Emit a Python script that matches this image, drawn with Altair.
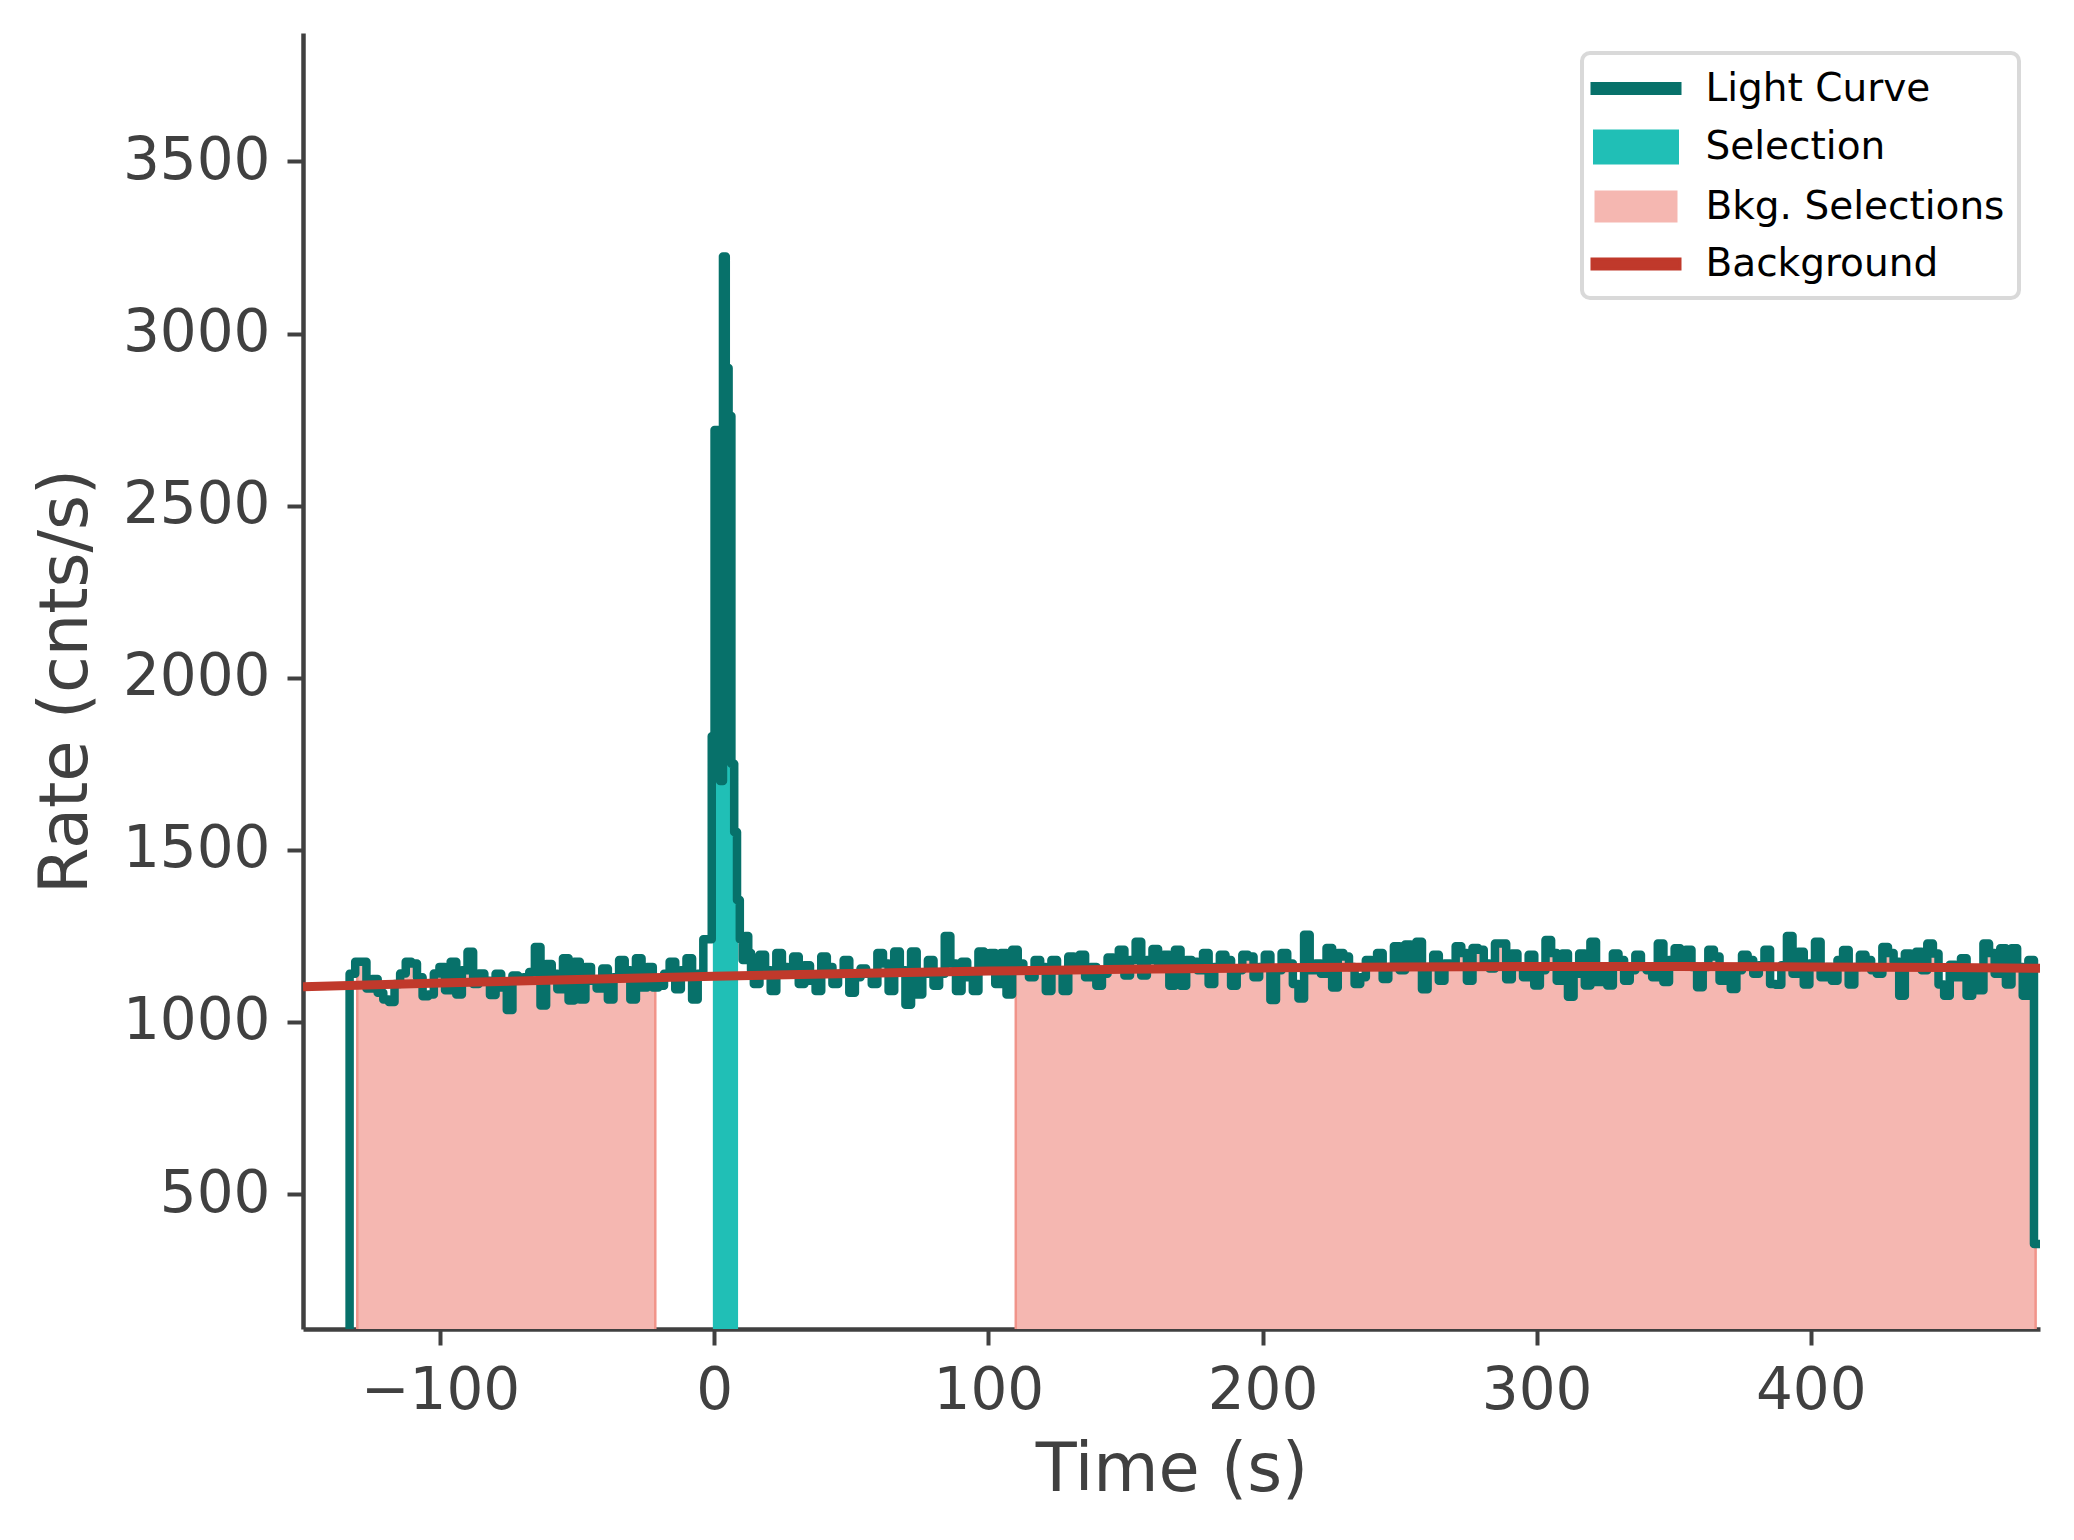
import altair as alt
import pandas as pd

# ---------------- data ----------------
LC_T0 = -133.0               # start of first full bin (s)
LC_DT = 2.048                # bin width away from the burst (s)
BURST_DT = 1.024             # finer bins through the burst (s)
LC_LEAD_RATE = 60.0          # partial bin before the first full bin (below the axis)

# -133 s ... -2 s
RATE_PRE = [
    1140, 1175, 1175, 1097, 1125, 1085, 1065, 1058, 1110, 1141,
    1175, 1170, 1130, 1075, 1080, 1141, 1160, 1092, 1175, 1080,
    1150, 1204, 1110, 1141, 1120, 1078, 1140, 1100, 1035, 1135,
    1125, 1130, 1145, 1218, 1048, 1168, 1140, 1095, 1185, 1062,
    1175, 1065, 1160, 1120, 1097, 1155, 1065, 1130, 1180, 1150,
    1065, 1185, 1100, 1160, 1100, 1105, 1140, 1175, 1095, 1150,
    1185, 1065, 1140, 1240,
]
# -1.9 s ... 14.5 s
RATE_BURST = [
    1240, 1830, 2720, 2720, 1700, 3224, 2900, 2760,
    1750, 1552, 1354, 1240, 1180, 1250, 1200, 1150,
]
# 14.5 s ... end
RATE_POST = [
    1110, 1195, 1150, 1090, 1200, 1160, 1140, 1190, 1110, 1165,
    1120, 1090, 1190, 1160, 1110, 1140, 1180, 1085, 1130, 1155,
    1140, 1110, 1200, 1170, 1090, 1205, 1150, 1050, 1205, 1080,
    1140, 1180, 1105, 1140, 1250, 1170, 1090, 1175, 1130, 1090,
    1205, 1150, 1200, 1110, 1200, 1080, 1210, 1170, 1150, 1130,
    1180, 1160, 1090, 1180, 1150, 1090, 1190, 1170,
    1195, 1130, 1160, 1105, 1140, 1187, 1170, 1210, 1135, 1180,
    1233, 1135, 1180, 1212, 1160, 1195, 1105, 1210, 1105, 1180,
    1175, 1150, 1200, 1110, 1160, 1195, 1180, 1105, 1150, 1195,
    1190, 1130, 1160, 1195, 1064, 1150, 1200, 1170, 1110, 1068,
    1253, 1150, 1170, 1140, 1215, 1100, 1200, 1190, 1160, 1110,
    1130, 1180, 1170, 1200, 1125, 1160, 1220, 1150, 1225, 1180,
    1233, 1095, 1160, 1195, 1120, 1170, 1165, 1220, 1200, 1120,
    1215, 1210, 1170, 1155, 1228,
    1228, 1124, 1199, 1160, 1130, 1195, 1106, 1150, 1238, 1200,
    1120, 1199, 1073, 1140, 1199, 1106, 1233, 1116, 1150, 1106,
    1199, 1180, 1120, 1150, 1195, 1160, 1150, 1130, 1228, 1116,
    1180, 1214, 1170, 1210, 1160, 1101, 1160, 1210, 1190, 1120,
    1150, 1096, 1150, 1195, 1180, 1140, 1165, 1210, 1110,
    1108, 1165, 1250, 1140, 1204, 1109, 1170, 1233, 1130, 1160,
    1120, 1180, 1209, 1109, 1160, 1195, 1180, 1150, 1140, 1218,
    1200, 1175, 1076, 1199, 1170, 1204, 1150, 1228, 1199, 1109,
    1076, 1166, 1130, 1185, 1076, 1140, 1092, 1228, 1200, 1140,
    1214, 1109, 1214, 1160, 1076, 1180, 355,
]
X_MIN, X_MAX = -150.0, 483.6
Y_MIN, Y_MAX = 108.0, 3873.0

# Background model
BACK_T = [-150, -100, -50, 0, 50, 100, 150, 200, 250, 300, 350, 400, 450, 483.6]
BACK_RATE = [1102, 1113, 1123, 1133, 1141, 1148, 1153, 1157, 1160, 1161, 1161, 1160, 1158, 1156]

# Intervals
SRC_INTERVAL = [-0.5, 8.7]
BKG_INTERVALS = [[-130.2, -21.5], [110.0, 482.0]]

X_TICKS = [-100, 0, 100, 200, 300, 400]
Y_TICKS = [500, 1000, 1500, 2000, 2500, 3000, 3500]

SERIES = ["Light Curve", "Selection", "Bkg. Selections", "Background"]
COLORS = ["#07716A", "#20BFB6", "#F5B7B1", "#C0392B"]

# ---------------- tables ----------------
lc_t = [LC_T0 - LC_DT]
lc_r = [LC_LEAD_RATE]
cur = LC_T0
for rates, dt in ((RATE_PRE, LC_DT), (RATE_BURST, BURST_DT), (RATE_POST, LC_DT)):
    for r in rates:
        lc_t.append(cur)
        lc_r.append(r)
        cur += dt
lc_t.append(X_MAX)
lc_r.append(lc_r[-1])
lc = pd.DataFrame({"t": lc_t, "rate": lc_r, "series": SERIES[0]})


def rate_at(t):
    idx = max(i for i, s in enumerate(lc_t[:-1]) if s <= t)
    return lc_r[idx]


def region(a, b, name, series):
    ts = [a] + [s for s in lc_t[:-1] if a < s < b] + [b]
    return pd.DataFrame({"t": ts, "rate": [rate_at(x) for x in ts],
                         "base": 0.0, "grp": name, "series": series})


bkg_df = pd.concat([region(a, b, "bkg%d" % i, SERIES[2]) for i, (a, b) in enumerate(BKG_INTERVALS)])
src_df = region(SRC_INTERVAL[0], SRC_INTERVAL[1], "src", SERIES[1])
back_df = pd.DataFrame({"t": BACK_T, "rate": BACK_RATE, "series": SERIES[3]})

# ---------------- encodings ----------------
TXT = "#404040"
x_enc = alt.X("t:Q", scale=alt.Scale(domain=[X_MIN, X_MAX], nice=False, zero=False),
              axis=alt.Axis(values=X_TICKS, title="Time (s)", titlePadding=17, format="d"))
y_enc = alt.Y("rate:Q", scale=alt.Scale(domain=[Y_MIN, Y_MAX], nice=False, zero=False),
              axis=alt.Axis(values=Y_TICKS, title="Rate (cnts/s)", titlePadding=22, format="d"))

RECT_SEL = "M-2.075,-0.8H2.075V0.8H-2.075Z"
RECT_BKG = "M-2.0,-0.725H2.0V0.725H-2.0Z"
RECT_LINE = "M-2.2,-0.25H2.2V0.25H-2.2Z"

shape_expr = ("datum.value === 'Selection' ? '%s' : (datum.value === 'Bkg. Selections' ? '%s' : '%s')"
              % (RECT_SEL, RECT_BKG, RECT_LINE))
fill_expr = ("datum.value === 'Light Curve' ? '%s' : (datum.value === 'Selection' ? '%s' : "
             "(datum.value === 'Bkg. Selections' ? '%s' : '%s'))" % tuple(COLORS))
stroke_expr = "datum.value === 'Bkg. Selections' ? '#F1948A' : 'transparent'"

legend = alt.Legend(
    title=None, orient="none", legendX=1279, legendY=20,
    padding=14, rowPadding=15.5,
    labelFont="DejaVu Sans", labelFontSize=39, labelColor="#000000", labelLimit=800,
    strokeColor="#D9D9D9", fillColor="#FFFFFF", cornerRadius=8,
    symbolSize=1600, symbolStrokeWidth=3, symbolOffset=18.5, labelOffset=48,
    symbolOpacity=1,
    symbolType=alt.ExprRef(shape_expr),
    symbolFillColor=alt.ExprRef(fill_expr),
    symbolStrokeColor=alt.ExprRef(stroke_expr),
)
color_enc = alt.Color("series:N", scale=alt.Scale(domain=SERIES, range=COLORS), legend=legend)

bkg_layer = alt.Chart(bkg_df).mark_area(
    interpolate="step-after", clip=True, stroke="#F1948A", strokeWidth=2.5, opacity=1
).encode(x=x_enc, y=y_enc, y2=alt.Y2("base:Q"), detail="grp:N", color=color_enc)

src_layer = alt.Chart(src_df).mark_area(
    interpolate="step-after", clip=True, opacity=1
).encode(x=x_enc, y=y_enc, y2=alt.Y2("base:Q"), color=color_enc)

lc_layer = alt.Chart(lc).mark_line(
    interpolate="step-after", clip=True, strokeWidth=8.5, strokeJoin="round", strokeCap="butt"
).encode(x=x_enc, y=y_enc, color=color_enc)

back_layer = alt.Chart(back_df).mark_line(
    clip=True, strokeWidth=9, strokeCap="butt"
).encode(x=x_enc, y=y_enc, color=color_enc)

chart = alt.layer(bkg_layer, src_layer, lc_layer, back_layer).properties(
    width=1737, height=1296,
    autosize=alt.AutoSizeParams(type="none"),
    padding={"left": 303, "top": 33, "right": 34, "bottom": 211},
    background="#FFFFFF",
).configure(
    font="DejaVu Sans",
).configure_view(
    strokeWidth=0,
).configure_axis(
    labelFont="DejaVu Sans", labelFontSize=58, labelColor=TXT, labelPadding=17,
    titleFont="DejaVu Sans", titleFontSize=67, titleColor=TXT, titleFontWeight="normal",
    domainColor=TXT, domainWidth=4.5, tickColor=TXT, tickWidth=4, tickSize=16,
    grid=False,
).configure_legend(
    strokeWidth=4,
)

chart.save("out.html", embed_options={"renderer": "svg", "actions": False})
